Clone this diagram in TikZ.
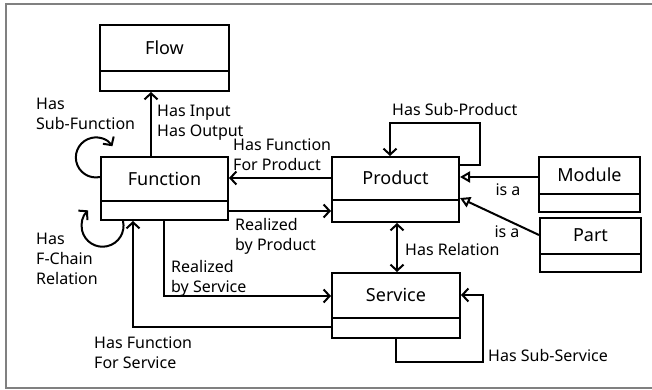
\documentclass[tikz,border=0pt]{standalone}
\usepackage{fontspec}
\setmainfont{Noto Sans}
\usetikzlibrary{arrows.meta}
\begin{document}
\begin{tikzpicture}[x=1pt,y=-1pt,
 box/.style={draw, line width=2pt, inner sep=0pt},
 btext/.style={font=\fontsize{18}{22}\selectfont, inner sep=0pt},
 lab/.style={font=\fontsize{16}{20}\selectfont, align=left, inner sep=0pt, anchor=north west},
 conn/.style={line width=2pt},
 barb/.tip={Straight Barb[length=6pt,width=13pt]},
 arr/.style={conn, -barb},
 gen/.style={conn, -{Triangle[open,length=10pt,width=11pt]}},
]
\useasboundingbox (0,0) rectangle (652,390);
\draw[gray, line width=2pt] (652,4) -- (6,4) -- (6,388) -- (652,388);

% boxes
\node[box, minimum width=129pt, minimum height=66pt] (flow) at (164.5,58) {};
\node[btext] (flowt) at (164.5,47.5) {Flow};
\draw[conn] ([yshift=21pt]flow.south west) -- ([yshift=21pt]flow.south east);

\node[box, minimum width=127pt, minimum height=63pt] (fn) at (164.5,188.5) {};
\node[btext] (fnt) at (164.5,178.5) {Function};
\draw[conn] ([yshift=20pt]fn.south west) -- ([yshift=20pt]fn.south east);

\node[box, minimum width=127pt, minimum height=65pt] (prod) at (395.5,189.5) {};
\node[btext] (prodt) at (395.5,178) {Product};
\draw[conn] ([yshift=23pt]prod.south west) -- ([yshift=23pt]prod.south east);

\node[box, minimum width=101pt, minimum height=55pt] (mod) at (589.5,184.5) {};
\node[btext] (modt) at (589.5,175) {Module};
\draw[conn] ([yshift=19pt]mod.south west) -- ([yshift=19pt]mod.south east);

\node[box, minimum width=101pt, minimum height=54pt] (part) at (590.5,245) {};
\node[btext] (partt) at (590.5,235.5) {Part};
\draw[conn] ([yshift=19pt]part.south west) -- ([yshift=19pt]part.south east);

\node[box, minimum width=128pt, minimum height=65pt] (serv) at (396,305.5) {};
\node[btext] (servt) at (396,295) {Service};
\draw[conn] ([yshift=21pt]serv.south west) -- ([yshift=21pt]serv.south east);

% connectors
\coordinate (xIO) at (151,0);
\draw[arr] (fn.north -| xIO) -- (flow.south -| xIO);
\coordinate (yHFP) at (0,178);
\draw[arr] (prod.west |- yHFP) -- (fn.east |- yHFP);
\coordinate (yRBP) at (0,211);
\draw[arr] (fn.east |- yRBP) -- (prod.west |- yRBP);
\coordinate (sp1) at (480,165);
\coordinate (sp2) at (390,123);
\draw[arr] (prod.east |- sp1) -- (sp1) -- (sp1 |- sp2) -- (sp2) -- (prod.north -| sp2);
\coordinate (yM) at (0,177);
\draw[gen] (mod.west |- yM) -- (prod.east |- yM);
\coordinate (yP) at (0,235);
\coordinate (yPt) at (0,198);
\draw[gen] (part.west |- yP) -- (prod.east |- yPt);
\coordinate (xR) at (397,0);
\draw[conn, barb-barb] (prod.south -| xR) -- (serv.north -| xR);
\coordinate (ss1) at (396,362);
\coordinate (ss2) at (483,295);
\draw[arr] (serv.south -| ss1) -- (ss1) -- (ss1 -| ss2) -- (ss2) -- (serv.east |- ss2);
\coordinate (rs) at (164,296);
\draw[arr] (fn.south -| rs) -- (rs) -- (serv.west |- rs);
\coordinate (hs) at (133,327);
\draw[arr] (serv.west |- hs) -- (hs) -- (fn.south -| hs);
\coordinate (l1) at (0,177);
\draw[arr] (fn.west |- l1) arc[start angle=78, end angle=326, radius=20];
\coordinate (l2) at (123,0);
\draw[arr] (fn.south -| l2) arc[start angle=-13, end angle=227, radius=21];

% labels
\node[lab] (lSF) at (36,98) {Has\\Sub-Function};
\node[lab] (lIO) at (157,105) {Has Input\\Has Output};
\node[lab] (lHFP) at (233,139) {Has Function\\For Product};
\node[lab] (lSP) at (392,103) {Has Sub-Product};
\node[lab,anchor=center] (lM) at (508,190) {is a};
\node[lab,anchor=center] (lP) at (507,232) {is a};
\node[lab] (lRBP) at (235,218) {Realized\\by Product};
\node[lab] (lRBS) at (171,260) {Realized\\by Service};
\node[lab] (lFC) at (36,233) {Has\\F-Chain\\Relation};
\node[lab] (lHFS) at (94,337) {Has Function\\For Service};
\node[lab] (lR) at (405,243) {Has Relation};
\node[lab] (lSS) at (488,349) {Has Sub-Service};
\end{tikzpicture}
\end{document}
